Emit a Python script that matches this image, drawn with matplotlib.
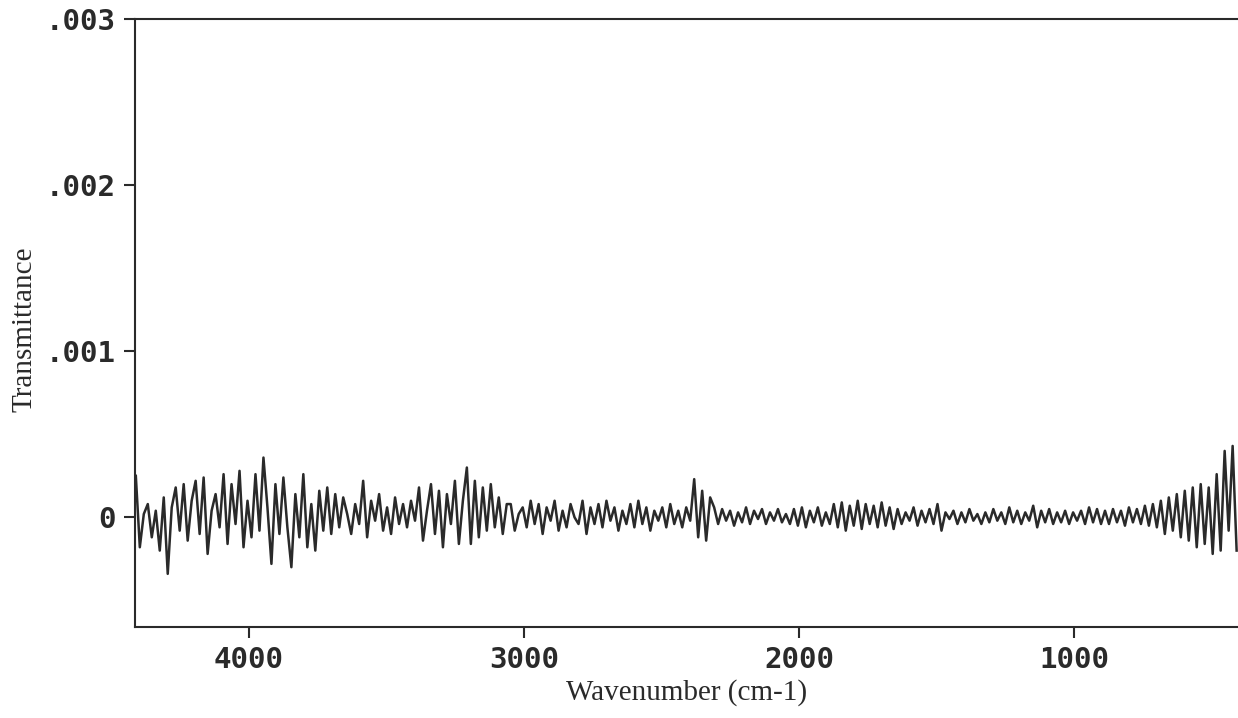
import numpy as np
import matplotlib

matplotlib.use("Agg")
import matplotlib.pyplot as plt
from matplotlib.ticker import FuncFormatter

# transmittance trace, units of 1e-5, read left (4410 cm-1) to right (410 cm-1)
seg_4400_3700 = [25, -18, 2, 8, -12, 4, -20, 12, -34, 6, 18, -8, 20, -14, 10, 22, -10, 24, -22, 4,
                 14, -6, 26, -16, 20, -4, 28, -18, 10, -12, 26, -8, 36, 6, -28, 20, -10, 24, -6, -30,
                 14, -12, 26, -18, 8, -20, 16, -8, 18]
seg_3700_3050 = [-10, 14, -6, 12, 2, -10, 8, -4, 22, -12, 10, -2, 14, -8, 6, -10, 12, -4, 8, -6,
                 10, -2, 18, -14, 4, 20, -10, 16, -18, 14, -4, 22, -16, 10, 30, -16, 22, -12, 18, -8,
                 20, -6, 12, -10, 8]
seg_3050_2380 = [8, -8, 2, 6, -6, 10, -4, 8, -10, 6, -2, 10, -8, 4, -6, 8, 0, -4, 10, -10,
                 6, -4, 8, -6, 10, -2, 6, -8, 4, -4, 8, -6, 10, -4, 6, -8, 4, -2, 6, -6,
                 8, -4, 4, -6, 6, -2]
seg_co2 = [23, -12, 16, -14, 12]
seg_2320_1650 = [6, -4, 5, -2, 4, -5, 3, -3, 6, -4, 4, -1, 5, -4, 3, -2, 5, -3, 2, -4,
                 5, -5, 6, -6, 4, -3, 6, -5, 3, -4, 8, -6, 9, -8, 7, -5, 10, -7, 8, -4,
                 7, -6, 9, -5, 6, -7]
seg_1650_900 = [5, -4, 3, -2, 6, -5, 4, -3, 5, -4, 8, -8, 3, -1, 4, -4, 3, -3, 5, -2,
                2, -4, 3, -3, 5, -2, 3, -4, 6, -3, 4, -4, 3, -2, 7, -6, 4, -3, 5, -4,
                3, -3, 4, -4, 3, -2, 4, -4, 6, -3, 5, -4]
seg_900_410 = [4, -4, 5, -3, 4, -5, 6, -3, 5, -4, 7, -5, 8, -6, 10, -10, 12, -8, 14, -12,
               16, -14, 18, -18, 20, -16, 18, -22, 26, -20, 40, -8, 43, -20]

x_ticks = [4000, 3000, 2000, 1000]
y_ticks = [0, 0.001, 0.002, 0.003]
y_tick_labels = ["0", ".001", ".002", ".003"]


def main() -> None:
    values = np.array(seg_4400_3700 + seg_3700_3050 + seg_3050_2380 + seg_co2
                      + seg_2320_1650 + seg_1650_900 + seg_900_410) * 1e-5
    wavenumber = np.linspace(4410, 410, len(values))

    fig = plt.figure(figsize=(12.38, 7.18), dpi=100)
    ax = fig.add_axes([135 / 1238, 1 - 627 / 718, 1 - 135 / 1238, (627 - 19) / 718])
    ax.plot(wavenumber, values, color="#2a2a2a", linewidth=1.8)

    ax.set_xlim(4413, 405)
    ax.set_ylim(-0.00066, 0.003)
    ax.set_xticks(x_ticks)
    ax.set_yticks(y_ticks)
    ax.yaxis.set_major_formatter(FuncFormatter(lambda v, _: y_tick_labels[y_ticks.index(round(v, 3))]))
    ax.spines["right"].set_visible(False)
    for spine in ax.spines.values():
        spine.set_linewidth(1.5)
        spine.set_color("#2a2a2a")
    ax.tick_params(direction="out", length=8, width=1.5, color="#2a2a2a", pad=6)
    for label in ax.get_xticklabels() + ax.get_yticklabels():
        label.set_fontfamily("DejaVu Sans Mono")
        label.set_fontweight("bold")
        label.set_fontsize(21)
        label.set_color("#2a2a2a")

    ax.set_xlabel("Wavenumber (cm-1)", fontfamily="Liberation Serif", fontsize=21,
                  color="#2a2a2a", labelpad=3)
    ax.set_ylabel("Transmittance", fontfamily="Liberation Serif", fontsize=21,
                  color="#2a2a2a")
    ax.yaxis.set_label_coords(-0.088, 0.49)

    fig.savefig("out.png", dpi=100)
    plt.close(fig)


if __name__ == "__main__":
    main()
